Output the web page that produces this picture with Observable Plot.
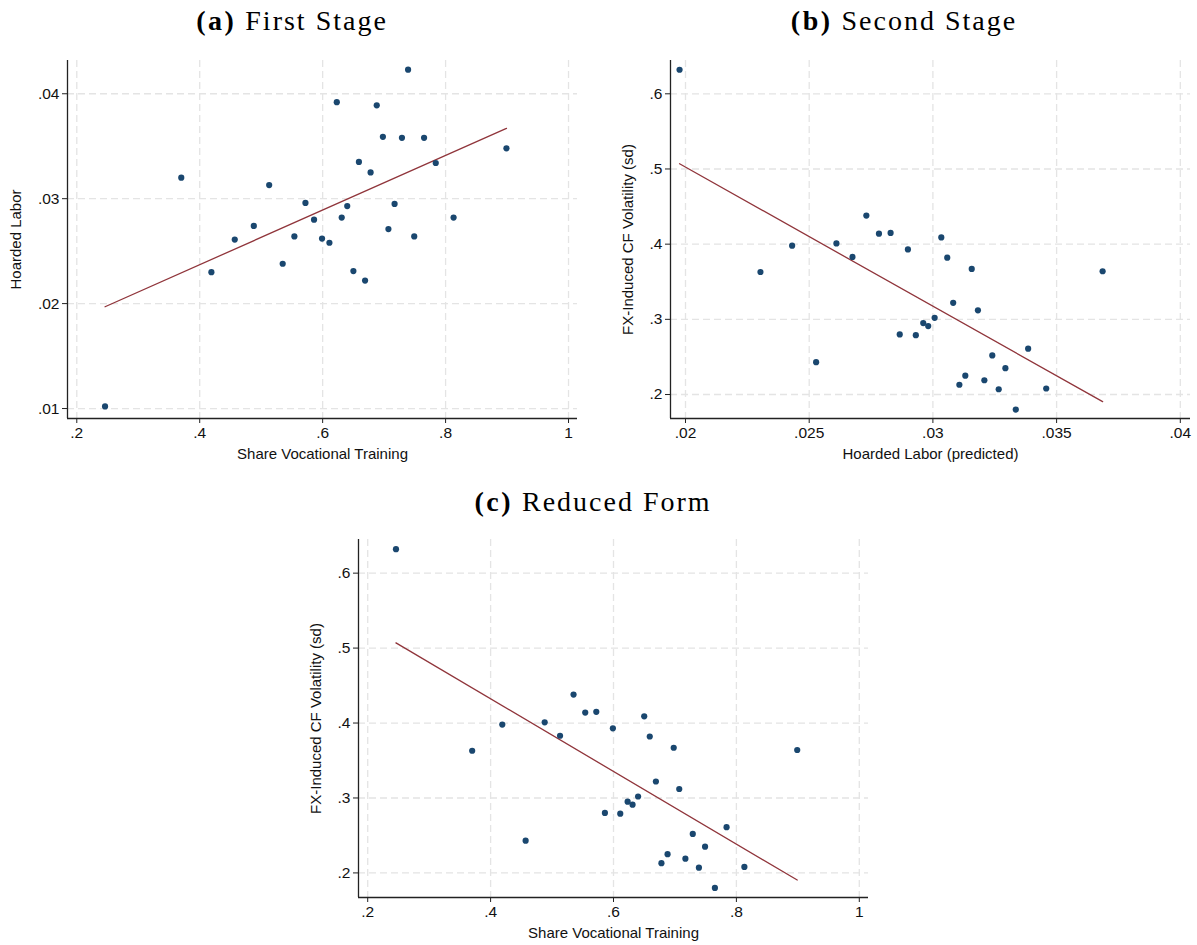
<!DOCTYPE html>
<html>
<head>
<meta charset="utf-8">
<script src="https://cdn.jsdelivr.net/npm/d3@7"></script>
<script src="https://cdn.jsdelivr.net/npm/@observablehq/plot@0.6"></script>
<style>
  body { margin: 0; background: #fff; }
  #root { position: relative; width: 1197px; height: 945px; background: #fff; overflow: hidden; }
  .panel { position: absolute; }
  .title { position: absolute; font-family: "Liberation Serif", "DejaVu Serif", serif; font-size: 28px; letter-spacing: 2px; color: #000; white-space: nowrap; transform: translateX(-50%); line-height: 1; }
  .title b { font-weight: bold; letter-spacing: 2.5px; }
</style>
</head>
<body>
<div id="root"></div>
<script>
// Share of vocational training (x in panels a and c)
const share = [0.246, 0.370, 0.419, 0.457, 0.488, 0.513, 0.535, 0.554, 0.572, 0.586,
               0.599, 0.611, 0.623, 0.631, 0.640, 0.650, 0.659, 0.669, 0.678, 0.688,
               0.698, 0.707, 0.717, 0.729, 0.739, 0.749, 0.765, 0.784, 0.813, 0.899];
// Hoarded labor (y in panel a)
const hoarded = [0.0102, 0.0320, 0.0230, 0.0261, 0.0274, 0.0313, 0.0238, 0.0264, 0.0296, 0.0280,
                 0.0262, 0.0258, 0.0392, 0.0282, 0.0293, 0.0231, 0.0335, 0.0222, 0.0325, 0.0389,
                 0.0359, 0.0271, 0.0295, 0.0358, 0.0423, 0.0264, 0.0358, 0.0334, 0.0282, 0.0348];
// Hoarded labor (predicted) (x in panel b)
const hoardedPred = [0.01976, 0.02303, 0.02431, 0.02528, 0.02610, 0.02675, 0.02731, 0.02782, 0.02829, 0.02866,
                     0.02899, 0.02931, 0.02961, 0.02981, 0.03007, 0.03034, 0.03058, 0.03082, 0.03107, 0.03131,
                     0.03157, 0.03182, 0.03208, 0.03240, 0.03266, 0.03293, 0.03335, 0.03385, 0.03458, 0.03686];
// FX-induced CF volatility (sd) (y in panels b and c)
const fxVol = [0.632, 0.363, 0.398, 0.243, 0.401, 0.383, 0.438, 0.414, 0.415, 0.280,
               0.393, 0.279, 0.295, 0.291, 0.302, 0.409, 0.382, 0.322, 0.213, 0.225,
               0.367, 0.312, 0.219, 0.252, 0.207, 0.235, 0.180, 0.261, 0.208, 0.364];

// Fitted (linear fit) lines, end points
const fitA_x = [0.246, 0.899];     const fitA_y = [0.0197, 0.0367];
const fitB_x = [0.01976, 0.03686]; const fitB_y = [0.507, 0.1905];
const fitC_x = [0.246, 0.899];     const fitC_y = [0.507, 0.1905];

const shareTicks = [0.2, 0.4, 0.6, 0.8, 1];
const hoardedTicks = [0.01, 0.02, 0.03, 0.04];
const predTicks = [0.02, 0.025, 0.03, 0.035, 0.04];
const volTicks = [0.2, 0.3, 0.4, 0.5, 0.6];

const fmt = d => String(+(+d).toFixed(4)).replace(/^0\./, ".");
const DOT = "#1a476f", LINE = "#90353b", GRID = "#e4e4e4", AXIS = "#222";

function panel({xs, ys, fx, fy, xDomain, yDomain, xTicks, yTicks, xLabel, yLabel, yLabelDx,
                width, height, ml, mr, mt, mb}) {
  const data = xs.map((x, i) => ({x, y: ys[i]}));
  const fit = fx.map((x, i) => ({x, y: fy[i]}));
  return Plot.plot({
    width, height,
    marginLeft: ml, marginRight: mr, marginTop: mt, marginBottom: mb,
    style: {fontFamily: "'Liberation Sans', Arial, sans-serif", fontSize: "15.5px", color: "#111", background: "#fff"},
    x: {domain: xDomain},
    y: {domain: yDomain},
    marks: [
      Plot.gridX(xTicks, {stroke: GRID, strokeOpacity: 1, strokeWidth: 1.3, strokeDasharray: "7,4"}),
      Plot.gridY(yTicks, {stroke: GRID, strokeOpacity: 1, strokeWidth: 1.3, strokeDasharray: "7,4"}),
      Plot.axisX(xTicks, {tickFormat: fmt, tickSize: 5, tickPadding: 3, label: null, fontSize: 15.5, stroke: AXIS}),
      Plot.axisY(yTicks, {tickFormat: fmt, tickSize: 5, tickPadding: 3, label: null, fontSize: 15.5, stroke: AXIS}),
      Plot.ruleX([xDomain[0]], {stroke: AXIS, strokeWidth: 1.3}),
      Plot.ruleY([yDomain[0]], {stroke: AXIS, strokeWidth: 1.3}),
      Plot.line(fit, {x: "x", y: "y", stroke: LINE, strokeWidth: 1.3}),
      Plot.dot(data, {x: "x", y: "y", r: 3.1, fill: DOT, stroke: null}),
      Plot.text([xLabel], {frameAnchor: "bottom", dy: 40, fontSize: 15, fill: "#111"}),
      Plot.text([yLabel], {frameAnchor: "left", textAnchor: "middle", dx: yLabelDx, rotate: -90, fontSize: 15, fill: "#111"})
    ]
  });
}

const root = document.getElementById("root");
function place(el, left, top) {
  el.classList.add("panel");
  el.style.left = left + "px";
  el.style.top = top + "px";
  root.appendChild(el);
}
function title(letter, text, cx, top) {
  const d = document.createElement("div");
  d.className = "title";
  d.innerHTML = `<b>(${letter})</b> ${text}`;
  d.style.left = cx + "px";
  d.style.top = top + "px";
  root.appendChild(d);
}

place(panel({
  xs: share, ys: hoarded, fx: fitA_x, fy: fitA_y,
  xDomain: [0.1849, 1.0146], yDomain: [0.00905, 0.04317],
  xTicks: shareTicks, yTicks: hoardedTicks,
  xLabel: "Share Vocational Training", yLabel: "Hoarded Labor", yLabelDx: -51,
  width: 590, height: 425, ml: 67, mr: 13, mt: 15, mb: 52
}), 0, 45);

place(panel({
  xs: hoardedPred, ys: fxVol, fx: fitB_x, fy: fitB_y,
  xDomain: [0.019394, 0.040412], yDomain: [0.1681, 0.6443],
  xTicks: predTicks, yTicks: volTicks,
  xLabel: "Hoarded Labor (predicted)", yLabel: "FX-Induced CF Volatility (sd)", yLabelDx: -42,
  width: 607, height: 425, ml: 80, mr: 7, mt: 15, mb: 52
}), 590, 45);

place(panel({
  xs: share, ys: fxVol, fx: fitC_x, fy: fitC_y,
  xDomain: [0.185, 1.015], yDomain: [0.1672, 0.6449],
  xTicks: shareTicks, yTicks: volTicks,
  xLabel: "Share Vocational Training", yLabel: "FX-Induced CF Volatility (sd)", yLabelDx: -42,
  width: 600, height: 425, ml: 68, mr: 22, mt: 15, mb: 52
}), 290, 524);

title("a", "First Stage", 292, 7);
title("b", "Second Stage", 904, 7);
title("c", "Reduced Form", 593, 488);
</script>
</body>
</html>
